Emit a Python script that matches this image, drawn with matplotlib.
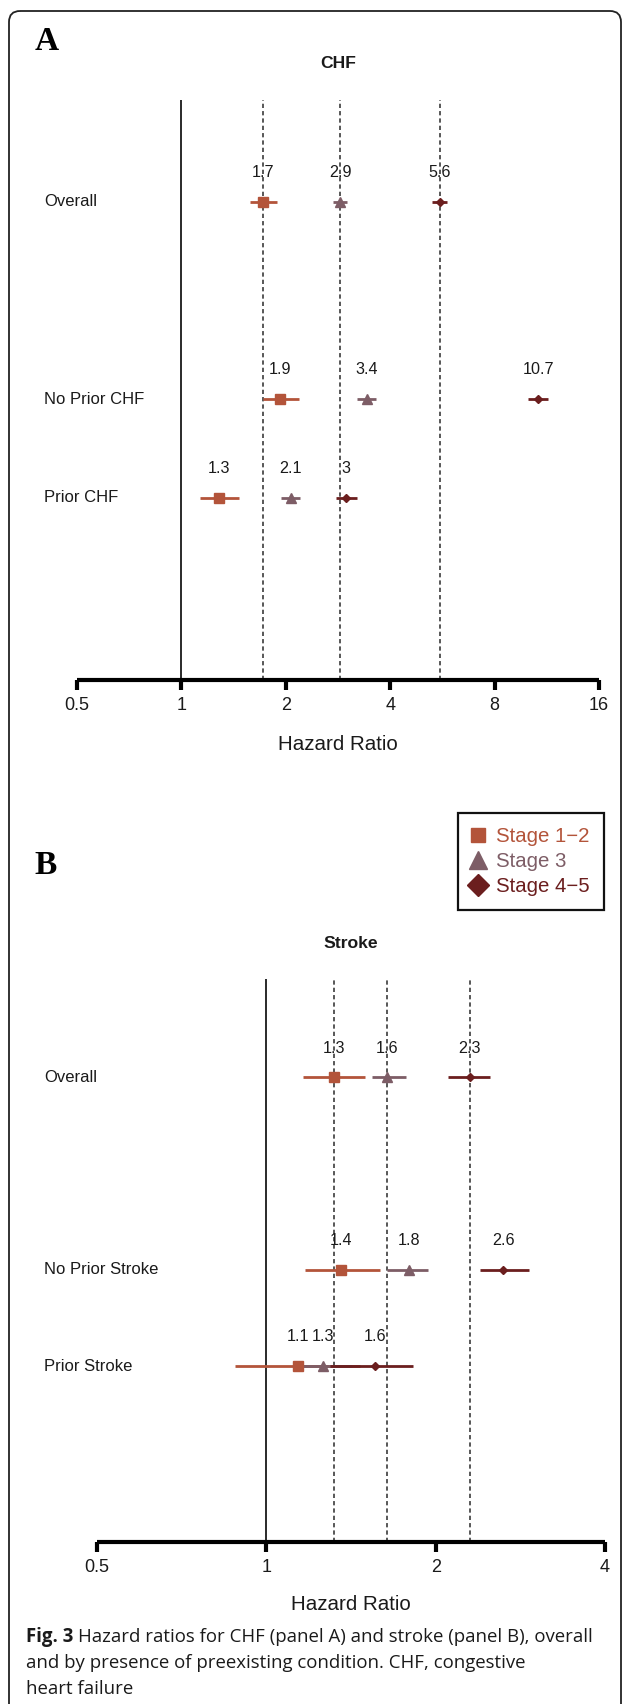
import matplotlib
matplotlib.use("Agg")
import matplotlib.pyplot as plt
import matplotlib.transforms as mtransforms
from matplotlib.patches import FancyBboxPatch
from matplotlib.lines import Line2D

# ---------------- data ----------------
stages = ["Stage 1\u22122", "Stage 3", "Stage 4\u22125"]
stage_colors = ["#B3543A", "#7D5D66", "#6B1E1E"]
stage_markers = ["s", "^", "D"]

chf_rows = ["Overall", "No Prior CHF", "Prior CHF"]
chf_hr = {
    "Stage 1\u22122": [1.72, 1.93, 1.28],
    "Stage 3": [2.87, 3.42, 2.07],
    "Stage 4\u22125": [5.56, 10.7, 2.99],
}
chf_lo = {
    "Stage 1\u22122": [1.58, 1.72, 1.13],
    "Stage 3": [2.73, 3.20, 1.94],
    "Stage 4\u22125": [5.29, 10.0, 2.80],
}
chf_hi = {
    "Stage 1\u22122": [1.89, 2.19, 1.47],
    "Stage 3": [3.01, 3.65, 2.20],
    "Stage 4\u22125": [5.85, 11.4, 3.20],
}
chf_ticks = [0.5, 1, 2, 4, 8, 16]
chf_ticklabels = ["0.5", "1", "2", "4", "8", "16"]

stroke_rows = ["Overall", "No Prior Stroke", "Prior Stroke"]
stroke_hr = {
    "Stage 1\u22122": [1.32, 1.36, 1.14],
    "Stage 3": [1.64, 1.79, 1.26],
    "Stage 4\u22125": [2.30, 2.64, 1.56],
}
stroke_lo = {
    "Stage 1\u22122": [1.16, 1.17, 0.88],
    "Stage 3": [1.54, 1.64, 1.16],
    "Stage 4\u22125": [2.10, 2.40, 1.30],
}
stroke_hi = {
    "Stage 1\u22122": [1.50, 1.59, 1.47],
    "Stage 3": [1.77, 1.94, 1.42],
    "Stage 4\u22125": [2.50, 2.93, 1.82],
}
stroke_ticks = [0.5, 1, 2, 4]
stroke_ticklabels = ["0.5", "1", "2", "4"]

row_pos = [5, 3, 2]

caption_bold = "Fig. 3"
caption_lines = [
    "Hazard ratios for CHF (panel A) and stroke (panel B), overall",
    "and by presence of preexisting condition. CHF, congestive",
    "heart failure",
]

# ---------------- figure ----------------
W, H = 625, 1704
fig = plt.figure(figsize=(W / 100, H / 100), dpi=100)
SANS = ["Liberation Sans", "DejaVu Sans"]
SERIF = ["Liberation Serif", "DejaVu Serif"]
CAP = ["Open Sans", "DejaVu Sans"]
TXT = "#1a1a1a"


def fbox(x0, y_top, x1, y_bot):
    return [x0 / W, 1 - y_bot / H, (x1 - x0) / W, (y_bot - y_top) / H]


ov = fig.add_axes([0, 0, 1, 1], zorder=0)
ov.set_xlim(0, W)
ov.set_ylim(H, 0)
ov.axis("off")
ov.add_patch(FancyBboxPatch((9, 11), 612, 1800,
                            boxstyle="round,pad=0,rounding_size=11",
                            fc="none", ec="#222222", lw=1.3, clip_on=False))


def panel(box, ylim, rows, hr, lo, hi, ticks, ticklabels, title, letter,
          letter_xy, title_y, xlabel_y):
    ax = fig.add_axes(fbox(*box), zorder=2)
    ax.set_facecolor("none")
    ax.set_xscale("log", base=2)
    ax.set_xlim(ticks[0], ticks[-1])
    ax.set_ylim(*ylim)
    for s in ["left", "top", "right"]:
        ax.spines[s].set_visible(False)
    ax.spines["bottom"].set_linewidth(3)
    ax.spines["bottom"].set_capstyle("butt")
    ax.set_xticks(ticks, labels=ticklabels)
    ax.xaxis.set_minor_locator(matplotlib.ticker.NullLocator())
    ax.tick_params(axis="x", direction="out", length=7, width=3, pad=5.5,
                   labelsize=13, labelcolor=TXT)
    ax.set_yticks([])
    for lab in ax.get_xticklabels():
        lab.set_fontfamily(SANS)

    ax.axvline(1, color="#2a2a2a", lw=1.4, zorder=1)
    overall = [hr[s][0] for s in stages]
    for v in overall:
        ax.axvline(v, color="#2a2a2a", lw=1.1, linestyle=(0, (2.8, 2.0)), zorder=1)

    msize = {"s": 7, "^": 7.5, "D": 3.6}
    for s, c, m in zip(stages, stage_colors, stage_markers):
        for i, y in enumerate(row_pos):
            ax.plot([lo[s][i], hi[s][i]], [y, y], color=c, lw=2,
                    solid_capstyle="butt", zorder=3, clip_on=False)
    for s, c, m in zip(stages, stage_colors, stage_markers):
        for i, y in enumerate(row_pos):
            ax.plot([hr[s][i]], [y], marker=m, color=c, markersize=msize[m],
                    linestyle="none", zorder=4, clip_on=False)
            v = round(hr[s][i], 1)
            ax.annotate(f"{v:g}", (hr[s][i], y), xytext=(0, 21),
                        textcoords="offset points", ha="center", va="center",
                        fontsize=11.6, family=SANS, color=TXT, zorder=5)

    tr = mtransforms.blended_transform_factory(fig.transFigure, ax.transData)
    for name, y in zip(rows, row_pos):
        ax.text(44 / W, y, name, transform=tr, ha="left", va="center",
                fontsize=12, family=SANS, color=TXT)

    cx = (box[0] + box[2]) / 2 / W
    fig.text(cx, 1 - title_y / H, title, ha="center", va="center",
             fontsize=12.6, fontweight="bold", family=SANS, color=TXT)
    fig.text(cx, 1 - xlabel_y / H, "Hazard Ratio", ha="center", va="center",
             fontsize=14.8, family=SANS, color=TXT)
    fig.text(letter_xy[0] / W, 1 - letter_xy[1] / H, letter, ha="center",
             va="center", fontsize=24, fontweight="bold", family=SERIF,
             color="black")
    return ax


axA = panel((77, 100, 599, 680), (0.155, 6.03), chf_rows, chf_hr, chf_lo,
            chf_hi, chf_ticks, chf_ticklabels, "CHF", "A", (47, 41), 63, 744)
axB = panel((97, 979, 605, 1542), (0.173, 6.02), stroke_rows, stroke_hr,
            stroke_lo, stroke_hi, stroke_ticks, stroke_ticklabels, "Stroke",
            "B", (46, 866), 943, 1605)

# legend
leg_ms = {"s": 10.5, "^": 13, "D": 11}
handles = [Line2D([], [], marker=m, color=c, linestyle="none",
                  markersize=leg_ms[m]) for m, c in zip(stage_markers, stage_colors)]
leg = fig.legend(handles, stages, loc="upper left",
                 bbox_to_anchor=(458 / W, 1 - 813 / H), borderaxespad=0,
                 frameon=True, fancybox=False, edgecolor="#111111",
                 framealpha=1, prop={"family": SANS, "size": 14.7},
                 labelcolor=stage_colors, borderpad=0.7, handlelength=0.56,
                 handletextpad=0.6, labelspacing=0.29)
leg.get_frame().set_linewidth(1.6)

# caption
fig.canvas.draw()
r = fig.canvas.get_renderer()
t0 = fig.text(26 / W, 1 - 1637 / H, caption_bold, ha="left", va="center",
              fontsize=13.4, fontweight="bold", family=CAP, color=TXT)
bb = t0.get_window_extent(renderer=r)
x_after = (bb.x1 + 5) / W
fig.text(x_after, 1 - 1637 / H, caption_lines[0], ha="left", va="center",
         fontsize=13.4, family=CAP, color=TXT)
for k, line in enumerate(caption_lines[1:]):
    fig.text(26 / W, 1 - (1663 + 26 * k) / H, line, ha="left", va="center",
             fontsize=13.4, family=CAP, color=TXT)

fig.savefig("out.png", dpi=100)
